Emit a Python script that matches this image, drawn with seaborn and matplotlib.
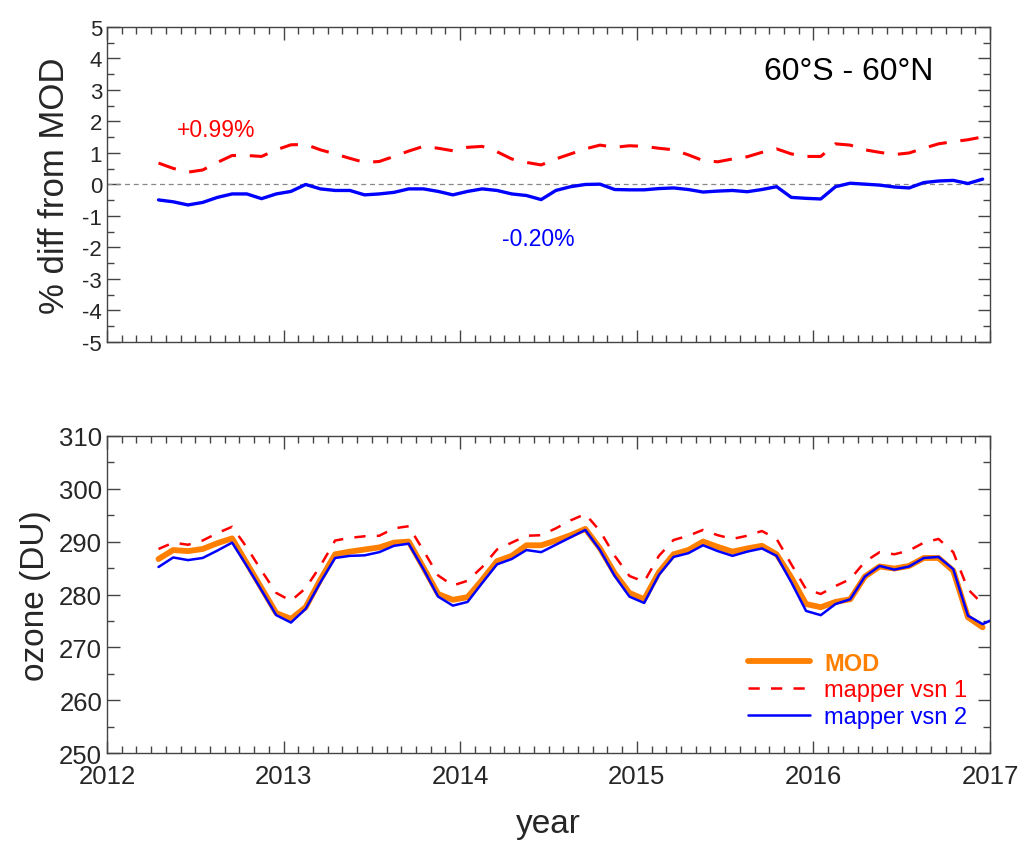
import numpy as np
import pandas as pd
import matplotlib
matplotlib.use("Agg")
import matplotlib.pyplot as plt
from matplotlib.ticker import MultipleLocator
import seaborn as sns

# ---------------- data ----------------
start_year, start_month = 2012, 4   # first monthly mean: April 2012
n_months = 57                        # April 2012 .. December 2016

diff_v1 = [0.68, 0.51, 0.39, 0.46, 0.70, 0.92, 0.92, 0.89, 1.10, 1.26,
           1.27, 1.10, 0.97, 0.83, 0.70, 0.73, 0.89, 1.06, 1.21, 1.15,
           1.07, 1.18, 1.21, 1.04, 0.81, 0.70, 0.62, 0.81, 0.97, 1.13,
           1.25, 1.18, 1.23, 1.21, 1.15, 1.10, 0.94, 0.76, 0.72, 0.81,
           0.88, 1.02, 1.13, 0.97, 0.89, 0.89, 1.29, 1.25, 1.10, 1.02,
           0.95, 1.00, 1.15, 1.29, 1.36, 1.42, 1.51]
diff_v2 = [-0.49, -0.55, -0.65, -0.57, -0.41, -0.30, -0.30, -0.45, -0.30, -0.22,
           0.00, -0.14, -0.19, -0.19, -0.33, -0.30, -0.25, -0.14, -0.14, -0.22,
           -0.33, -0.22, -0.14, -0.19, -0.30, -0.35, -0.48, -0.19, -0.07, 0.00,
           0.01, -0.16, -0.17, -0.17, -0.13, -0.11, -0.16, -0.24, -0.21, -0.19,
           -0.23, -0.16, -0.07, -0.41, -0.44, -0.46, -0.07, 0.04, 0.01, -0.02,
           -0.08, -0.11, 0.06, 0.11, 0.13, 0.03, 0.17]

ozone_mod = [286.7, 288.4, 288.2, 288.6, 289.7, 290.6, 285.9, 281.2, 276.5, 275.4,
             277.6, 282.8, 287.6, 288.1, 288.5, 288.9, 289.8, 290.0, 285.1, 280.1,
             279.0, 279.5, 282.8, 286.3, 287.3, 289.3, 289.3, 290.2, 291.2, 292.4,
             288.7, 284.0, 280.3, 279.1, 284.2, 287.6, 288.4, 290.0, 289.0, 288.1,
             288.7, 289.2, 287.6, 283.2, 278.2, 277.6, 278.6, 279.1, 283.4, 285.3,
             284.9, 285.4, 286.9, 286.9, 284.5, 275.7, 273.8]
ozone_v1 = [288.6, 289.8, 289.4, 290.2, 291.6, 292.8, 288.9, 284.5, 280.3, 278.8,
            281.2, 285.4, 290.2, 290.7, 291.0, 291.1, 292.5, 292.9, 288.3, 283.6,
            281.7, 282.6, 285.2, 288.5, 289.8, 291.1, 291.2, 292.5, 294.0, 295.2,
            292.0, 287.3, 283.5, 282.4, 287.3, 290.3, 291.1, 292.2, 291.2, 290.5,
            291.1, 292.0, 290.5, 285.7, 281.0, 280.1, 281.6, 282.9, 286.2, 288.0,
            287.6, 288.3, 289.8, 290.5, 288.0, 281.0, 278.2]
# version 2 runs one month further (January 2017, clipped at the axis edge)
ozone_v2 = [285.2, 287.0, 286.5, 286.9, 288.3, 289.8, 285.4, 280.8, 276.1, 274.7,
            277.3, 282.3, 286.9, 287.3, 287.4, 288.0, 289.2, 289.6, 284.8, 279.6,
            277.9, 278.6, 282.2, 285.7, 286.7, 288.4, 288.0, 289.4, 290.8, 292.2,
            288.4, 283.5, 279.6, 278.4, 283.7, 287.1, 287.8, 289.3, 288.2, 287.3,
            288.1, 288.7, 287.3, 282.3, 276.9, 276.1, 278.2, 279.1, 283.4, 285.4,
            284.7, 285.3, 286.9, 287.1, 284.8, 276.0, 274.4, 275.7]

mean_v1_label = "+0.99%"
mean_v2_label = "-0.20%"
region_label = "60°S - 60°N"
series_names = ["MOD", "mapper vsn 1", "mapper vsn 2"]
year_ticks = [2012, 2013, 2014, 2015, 2016, 2017]

# ---------------- helpers ----------------
def dec_years(n):
    return [start_year + (start_month - 1 + k + 0.5) / 12.0 for k in range(n)]

t57 = dec_years(n_months)
t58 = dec_years(len(ozone_v2))

C_ORANGE = "#FF8000"
C_RED = "#FF0000"
C_BLUE = "#0000FF"

sns.set_theme(style="ticks")
plt.rcParams["font.family"] = ["Liberation Sans", "DejaVu Sans"]
plt.rcParams["axes.edgecolor"] = "#444444"
plt.rcParams["axes.linewidth"] = 1.0

fig = plt.figure(figsize=(10.22, 8.45), dpi=100)
ax1 = fig.add_axes([0.1047, 0.5941, 0.864, 0.3728])
ax2 = fig.add_axes([0.1047, 0.1073, 0.864, 0.3759])

def style_axes(ax, ymaj, ymin):
    ax.xaxis.set_major_locator(MultipleLocator(1))
    ax.xaxis.set_minor_locator(MultipleLocator(1 / 12))
    ax.yaxis.set_major_locator(MultipleLocator(ymaj))
    ax.yaxis.set_minor_locator(MultipleLocator(ymin))
    ax.tick_params(which="both", direction="in", top=True, right=True,
                   color="#444444")
    ax.tick_params(which="major", length=9, width=1.0)
    ax.tick_params(which="minor", length=5, width=1.0)
    for s in ax.spines.values():
        s.set_visible(True)
    ax.grid(False)

# ---------------- top panel ----------------
ax1.axhline(0, color="#888888", lw=0.9, ls=(0, (4, 3)), zorder=1)
df_top = pd.DataFrame({"t": t57, "v1": diff_v1, "v2": diff_v2})
sns.lineplot(data=df_top, x="t", y="v1", ax=ax1, color=C_RED, lw=2.2)
ax1.lines[-1].set_dashes([6, 4.5])
sns.lineplot(data=df_top, x="t", y="v2", ax=ax1, color=C_BLUE, lw=2.4)
ax1.set_xlim(2012, 2017)
ax1.set_ylim(-5, 5)
style_axes(ax1, 1, 0.5)
ax1.set_xticks(year_ticks)
ax1.set_xticklabels([])
ax1.set_yticks(range(-5, 6))
ax1.set_yticklabels([str(v) for v in range(-5, 6)], fontsize=16)
ax1.set_xlabel("")
ax1.set_ylabel("% diff from MOD", fontsize=25, labelpad=8)
ax1.text(2012.62, 1.76, mean_v1_label, color=C_RED, fontsize=16.5,
         ha="center", va="center")
ax1.text(2014.44, -1.73, mean_v2_label, color=C_BLUE, fontsize=16.5,
         ha="center", va="center")
ax1.text(2016.2, 3.6, region_label, color="black", fontsize=23,
         ha="center", va="center")

# ---------------- bottom panel ----------------
df_b = pd.DataFrame({"t": t57, "mod": ozone_mod, "v1": ozone_v1})
df_b2 = pd.DataFrame({"t": t58, "v2": ozone_v2})
sns.lineplot(data=df_b, x="t", y="mod", ax=ax2, color=C_ORANGE, lw=4.2,
             label=series_names[0])
sns.lineplot(data=df_b, x="t", y="v1", ax=ax2, color=C_RED, lw=1.8,
             label=series_names[1])
ax2.lines[-1].set_dashes([4.5, 4.5])
sns.lineplot(data=df_b2, x="t", y="v2", ax=ax2, color=C_BLUE, lw=1.8,
             label=series_names[2])
ax2.set_xlim(2012, 2017)
ax2.set_ylim(250, 310)
style_axes(ax2, 10, 5)
ax2.set_xticks(year_ticks)
ax2.set_xticklabels([str(y) for y in year_ticks], fontsize=18.5)
ax2.set_yticks(range(250, 311, 10))
ax2.set_yticklabels([str(v) for v in range(250, 311, 10)], fontsize=18.5)
ax2.tick_params(axis="x", pad=8)
ax2.set_xlabel("year", fontsize=24, labelpad=14)
ax2.set_ylabel("ozone (DU)", fontsize=24, labelpad=6)

leg = ax2.legend(loc="lower right", bbox_to_anchor=(0.99, 0.035), frameon=False,
                 fontsize=17, handlelength=2.6, handletextpad=0.6,
                 labelspacing=0.2, borderaxespad=0.2)
for txt, col in zip(leg.get_texts(), [C_ORANGE, C_RED, C_BLUE]):
    txt.set_color(col)
leg.get_texts()[0].set_fontweight("bold")

fig.savefig("out.png", dpi=100)
